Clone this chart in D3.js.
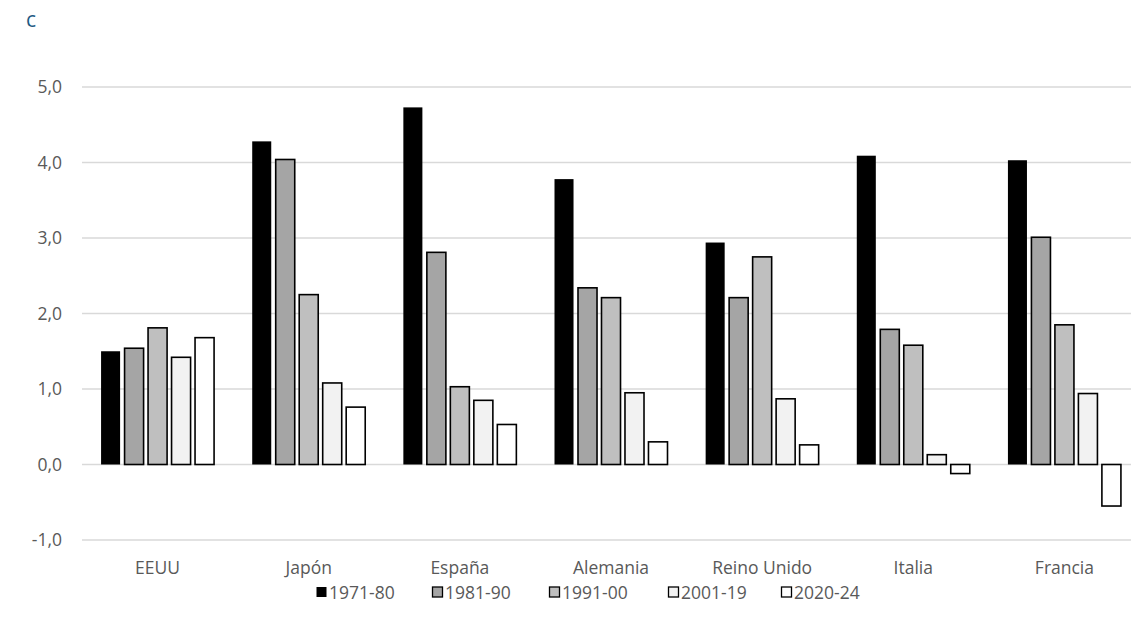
<!DOCTYPE html>
<html>
<head>
<meta charset="utf-8">
<script src="https://cdn.jsdelivr.net/npm/d3@7"></script>
<style>
  html, body { margin: 0; padding: 0; background: #fff; overflow: hidden; }
  svg { display: block; font-family: "Open Sans", "Liberation Sans", sans-serif; }
</style>
</head>
<body>
<svg id="chart" width="1131" height="625"></svg>
<script>
// Average annual growth by period and country
const countries = ["EEUU", "Japón", "España", "Alemania", "Reino Unido", "Italia", "Francia"];
const periods = ["1971-80", "1981-90", "1991-00", "2001-19", "2020-24"];
const v1971_80 = [1.50, 4.28, 4.73, 3.78, 2.94, 4.09, 4.03];
const v1981_90 = [1.54, 4.04, 2.81, 2.34, 2.21, 1.79, 3.01];
const v1991_00 = [1.81, 2.25, 1.03, 2.21, 2.75, 1.58, 1.85];
const v2001_19 = [1.42, 1.08, 0.85, 0.95, 0.87, 0.13, 0.94];
const v2020_24 = [1.68, 0.76, 0.53, 0.30, 0.26, -0.12, -0.55];
const yTicks = [-1, 0, 1, 2, 3, 4, 5];
const fills = ["#000000", "#a5a5a5", "#bfbfbf", "#f2f2f2", "#ffffff"];

const seriesValues = [v1971_80, v1981_90, v1991_00, v2001_19, v2020_24];

const svg = d3.select("#chart");
const plotLeft = 82, plotRight = 1140, plotTop = 87, plotBottom = 540;
const fontSize = 17.5;

const x = d3.scaleBand().domain(countries).range([plotLeft, plotRight]).paddingInner(0).paddingOuter(0);
const y = d3.scaleLinear().domain([-1, 5]).range([plotBottom, plotTop]);
const xs = d3.scaleBand().domain(periods).range([0, 113]).paddingInner(0.19).paddingOuter(0);
const groupOffset = (x.bandwidth() - 113) / 2;

// title
svg.append("text").attr("x", 26).attr("y", 27)
  .attr("fill", "#1f5b85").attr("font-size", 21).text("c");

// gridlines
svg.append("g").selectAll("line").data(yTicks).join("line")
  .attr("x1", plotLeft).attr("x2", plotRight)
  .attr("y1", d => y(d)).attr("y2", d => y(d))
  .attr("stroke", "#d9d9d9").attr("stroke-width", 1.5);

// y axis labels (comma decimal, plain hyphen for negatives)
const yAxis = d3.axisLeft(y).tickValues(yTicks).tickSize(0).tickPadding(20)
  .tickFormat(d => d.toFixed(1).replace(".", ","));
svg.append("g").attr("transform", `translate(${plotLeft},0)`).call(yAxis)
  .call(g => g.select(".domain").remove())
  .call(g => g.selectAll("text").attr("fill", "#595959").attr("font-size", fontSize)
    .attr("font-family", "'Open Sans', sans-serif"));

// bars
periods.forEach((p, si) => {
  svg.append("g").selectAll("rect").data(countries).join("rect")
    .attr("x", c => x(c) + groupOffset + xs(p))
    .attr("width", xs.bandwidth())
    .attr("y", (c, i) => y(Math.max(0, seriesValues[si][i])))
    .attr("height", (c, i) => Math.abs(y(seriesValues[si][i]) - y(0)))
    .attr("fill", fills[si])
    .attr("stroke", "#000").attr("stroke-width", si === 0 ? 0 : 1.6);
});

// x axis labels
const xAxis = d3.axisBottom(x).tickSize(0).tickPadding(0);
svg.append("g").attr("transform", `translate(0,562)`).call(xAxis)
  .call(g => g.select(".domain").remove())
  .call(g => g.selectAll("text").attr("fill", "#595959").attr("font-size", fontSize)
    .attr("font-family", "'Open Sans', sans-serif"));

// legend
const legendX = [316, 432, 549, 668, 781];
const lg = svg.append("g").selectAll("g").data(periods).join("g")
  .attr("transform", (d, i) => `translate(${legendX[i]},592)`);
lg.append("rect").attr("x", 0.5).attr("y", -5).attr("width", 10).attr("height", 10)
  .attr("fill", (d, i) => fills[i]).attr("stroke", "#000")
  .attr("stroke-width", (d, i) => i === 0 ? 0 : 1.3);
lg.append("text").attr("x", 13).attr("y", 6.5).attr("fill", "#595959")
  .attr("font-size", fontSize).text(d => d);
</script>
</body>
</html>
